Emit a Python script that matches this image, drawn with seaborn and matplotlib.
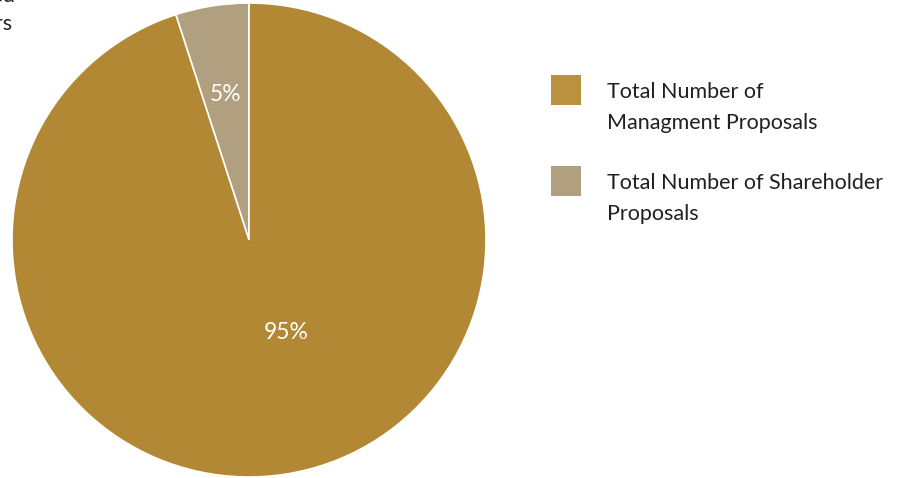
import matplotlib
matplotlib.use("Agg")
import matplotlib.pyplot as plt
import seaborn as sns
import numpy as np
from matplotlib.patches import Rectangle

# Proposal mix (percent of all proposals)
categories = ["Total Number of Shareholder Proposals", "Total Number of Managment Proposals"]
shares = [5, 95]
colors = ["#B0A07F", "#B38834"]
legend_lines = [["Total Number of", "Managment Proposals"],
                ["Total Number of Shareholder", "Proposals"]]
legend_colors = ["#B9913F", "#B0A07F"]
title_lines = ["Proposals Voted", "by Shareholders"]

sns.set_theme(style="white")
plt.rcParams["font.family"] = ["Lato", "DejaVu Sans"]

W, H = 899, 478
fig = plt.figure(figsize=(W / 100, H / 100), dpi=100)
fig.patch.set_facecolor("white")

# pie axes: centre (249, 240) px, radius 237 px
cx, cy, R = 249, 240, 237
ax = fig.add_axes([(cx - R) / W, (H - cy - R) / H, 2 * R / W, 2 * R / H])
wedges, _ = ax.pie(shares, colors=colors, startangle=90, counterclock=True,
                   radius=1.0, wedgeprops=dict(edgecolor="white", linewidth=1.2))
ax.set_xlim(-1, 1)
ax.set_ylim(-1, 1)
ax.set_aspect("equal")
ax.axis("off")

# percentage labels, placed along each wedge
label_radius = [0.62, 0.42]
label_angle_shift = [0, 13]
for w, v, r, da in zip(wedges, shares, label_radius, label_angle_shift):
    ang = np.deg2rad((w.theta1 + w.theta2) / 2 + da)
    ax.text(r * np.cos(ang), r * np.sin(ang), f"{v}%", color="white",
            fontsize=16.5, fontweight="normal", ha="center", va="center")

# legend drawn in figure pixel space
def px(x, y):
    return x / W, 1 - y / H

sq = 30
for i, (lines, col) in enumerate(zip(legend_lines, legend_colors)):
    top = 75 + i * 91
    x0, y0 = px(551, top + sq)
    fig.patches.append(Rectangle((x0, y0), sq / W, sq / H, transform=fig.transFigure,
                                 facecolor=col, edgecolor="none"))
    for j, line in enumerate(lines):
        tx, ty = px(607, top + 23 + j * 31)
        fig.text(tx, ty, line, fontsize=15.5, color="#231F20", va="baseline", ha="left")

# title block, running off the left edge
for j, line in enumerate(title_lines):
    tx, ty = px(15 - j * 3, 2 + j * 28)
    fig.text(tx, ty, line, fontsize=15.5, color="#231F20", va="baseline", ha="right")

fig.savefig("out.png", dpi=100, facecolor="white")
